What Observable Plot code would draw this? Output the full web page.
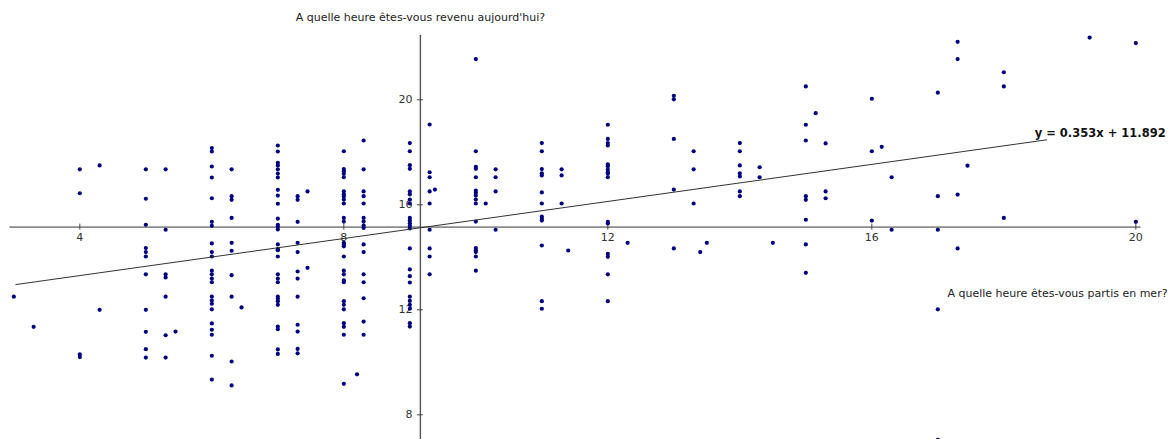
<!DOCTYPE html>
<html><head><meta charset="utf-8">
<script src="https://cdn.jsdelivr.net/npm/d3@7"></script>
<script src="https://cdn.jsdelivr.net/npm/@observablehq/plot@0.6"></script>
<style>body{margin:0;background:#fff} svg{display:block}</style>
</head><body><div id="chart"></div>
<script>
// ---- data ----
const xTitle = "A quelle heure êtes-vous partis en mer?";
const yTitle = "A quelle heure êtes-vous revenu aujourd'hui?";
const xTicks = [4, 8, 12, 16, 20];
const yTicks = [8, 12, 16, 20];
const departureTimes = [3, 3.3, 4, 4.3, 5, 5.3, 5.45, 6, 6.3, 6.45, 7, 7.3, 7.45, 8, 8.2, 8.3, 9, 9.3, 9.38, 10, 10.15, 10.3, 11, 11.3, 11.4, 12, 12.3, 13, 13.3, 13.4, 13.5, 14, 14.3, 14.5, 15, 15.15, 15.3, 16, 16.15, 16.3, 17, 17.3, 17.45, 18, 19.3, 20];
const returnTimes = [
  [12.5],
  [11.35],
  [17.35, 16.44, 10.3, 10.2],
  [17.5, 12.0],
  [17.35, 16.23, 15.24, 14.35, 14.2, 14.03, 13.35, 12.0, 11.16, 10.5, 10.18],
  [17.35, 15.05, 13.35, 13.23, 12.5, 11.03, 10.18],
  [11.17],
  [18.16, 18.03, 17.46, 17.04, 16.25, 15.35, 15.2, 14.53, 14.2, 14.03, 13.49, 13.35, 13.19, 13.05, 12.5, 12.35, 12.23, 12.02, 11.48, 11.24, 11.05, 10.25, 9.34],
  [17.35, 16.33, 16.19, 15.5, 14.55, 14.25, 13.32, 12.5, 10.03, 9.12],
  [12.09],
  [18.26, 18.03, 17.6, 17.5, 17.35, 17.19, 17.04, 16.57, 16.35, 16.04, 15.47, 15.24, 15.16, 15.06, 14.49, 14.31, 14.27, 14.03, 13.35, 13.19, 13.05, 12.5, 12.42, 12.33, 12.19, 11.36, 11.26, 10.49, 10.32],
  [16.33, 16.19, 15.35, 14.55, 14.2, 13.46, 13.19, 12.5, 11.43, 11.17, 10.51, 10.34],
  [16.51, 13.6],
  [18.04, 17.36, 17.28, 17.18, 17.05, 16.51, 16.4, 16.32, 16.2, 16.05, 15.5, 15.36, 14.55, 14.49, 14.42, 14.03, 13.49, 13.35, 13.12, 13.05, 12.33, 12.19, 12.02, 11.49, 11.35, 11.05, 9.18],
  [9.54],
  [18.45, 17.35, 16.51, 16.33, 16.05, 15.5, 15.36, 15.21, 15.12, 14.49, 14.2, 13.35, 13.05, 12.44, 11.55, 11.05],
  [18.35, 18.04, 17.51, 17.37, 16.51, 16.4, 16.2, 16.05, 15.5, 15.4, 15.3, 15.2, 15.1, 14.34, 13.54, 13.28, 13.04, 12.5, 12.34, 12.19, 12.04, 11.49, 11.36],
  [19.06, 17.24, 17.05, 16.51, 16.05, 15.05, 14.34, 14.03, 13.35],
  [16.58],
  [21.55, 18.04, 17.45, 17.37, 17.05, 16.54, 16.46, 16.35, 16.2, 16.05, 15.36, 14.35, 14.27, 14.2, 14.03, 13.49],
  [16.05],
  [17.35, 17.05, 16.51, 15.05],
  [18.35, 18.04, 17.36, 17.2, 17.12, 16.47, 16.05, 15.55, 15.47, 15.4, 14.45, 12.33, 12.04],
  [17.35, 17.12, 16.05],
  [14.26],
  [19.05, 18.51, 18.35, 18.26, 17.54, 17.47, 17.34, 17.24, 17.18, 17.05, 15.35, 15.29, 14.13, 14.02, 13.35, 12.33],
  [14.55],
  [20.15, 20.02, 18.51, 16.58, 14.34],
  [18.04, 17.35, 16.05],
  [14.2],
  [14.55],
  [18.35, 18.04, 17.5, 17.2, 17.08, 16.51, 16.33],
  [17.43, 17.05],
  [14.55],
  [20.51, 19.05, 18.45, 16.33, 16.19, 15.43, 14.49, 13.41],
  [19.49],
  [18.34, 16.51, 16.25],
  [20.04, 18.04, 15.4],
  [18.21],
  [17.05, 15.05],
  [20.27, 16.33, 15.05, 12.02, 7.05],
  [22.21, 21.55, 16.39, 14.34],
  [17.49],
  [21.05, 20.51, 15.5],
  [22.37],
  [22.16, 15.35]
];
const slope = 0.353;
const intercept = 11.892;
const fitRange = [3.03, 18.65];
const fitLabel = "y = 0.353x + 11.892";
// the axes cross at the mean point (x̄, ȳ)
const origin = {x: 9.16, y: 15.15};

// ---- build ----
const points = departureTimes.flatMap((d, i) => returnTimes[i].map(r => ({depart: d, ret: r})));
const fitLine = fitRange.map(x => ({x, y: slope * x + intercept}));
const xDomain = [2.798, 20.495];
const yDomain = [7.059, 23.783];
const font = "'DejaVu Sans', sans-serif";

const chart = Plot.plot({
  width: 1168,
  height: 439,
  margin: 0,
  x: {domain: xDomain, axis: null},
  y: {domain: yDomain, axis: null},
  style: {fontFamily: font, background: "#fff", overflow: "visible"},
  marks: [
    // axes
    Plot.ruleY([origin.y], {x1: 2.94, x2: 20.08, stroke: "#8c8c8c", strokeWidth: 1.6}),
    Plot.ruleX([origin.x], {y1: yDomain[0], y2: 22.45, stroke: "#555", strokeWidth: 1.4}),
    Plot.ruleX(xTicks, {x: d => d, y1: () => origin.y, y2: () => origin.y, insetTop: -3, insetBottom: -3, stroke: "#444"}),
    Plot.ruleY(yTicks, {y: d => d, x1: () => origin.x, x2: () => origin.x, insetLeft: -3, insetRight: -3, stroke: "#444"}),
    Plot.text(xTicks, {x: d => d, y: () => origin.y, dy: 10.5, text: d => String(d), fontSize: 11, fill: "#333"}),
    Plot.text(yTicks, {x: () => origin.x, y: d => d, dx: -8, textAnchor: "end", text: d => String(d), fontSize: 11, fill: "#333"}),
    // axis titles
    Plot.text([yTitle], {x: () => origin.x, frameAnchor: "top", lineAnchor: "middle", dy: 17.3, fontSize: 11, fill: "#222"}),
    Plot.text([xTitle], {frameAnchor: "right", textAnchor: "end", lineAnchor: "middle", dx: -1, dy: 73.8, fontSize: 11, fill: "#222"}),
    // data
    Plot.dot(points, {x: "depart", y: "ret", r: 2.1, fill: "#00007f", stroke: "none"}),
    // regression line
    Plot.line(fitLine, {x: "x", y: "y", stroke: "#333", strokeWidth: 1}),
    Plot.text([fitLabel], {x: () => fitRange[1], y: () => slope * fitRange[1] + intercept, dx: -12, dy: -7, textAnchor: "start", fontWeight: "bold", fontSize: 11.5, fill: "#111"})
  ]
});
document.getElementById("chart").appendChild(chart);
</script>
</body></html>
